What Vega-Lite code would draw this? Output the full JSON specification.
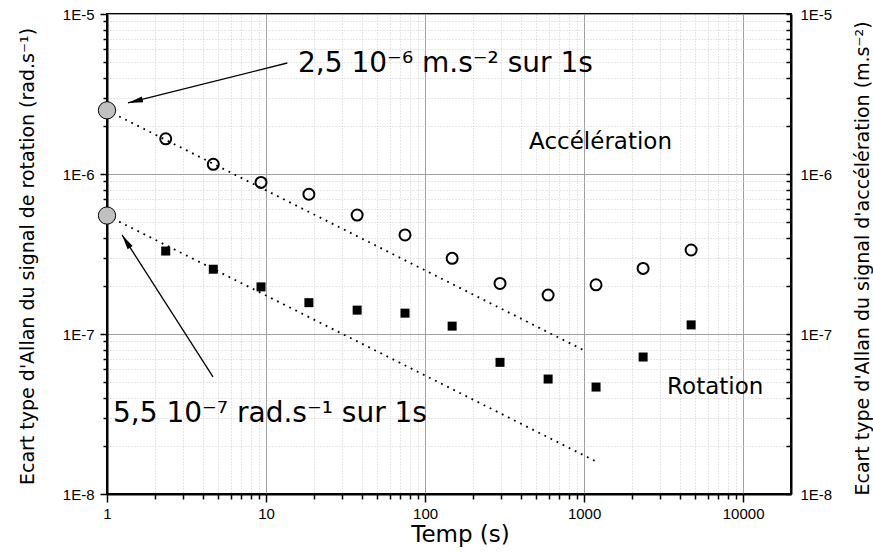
{
  "$schema": "https://vega.github.io/schema/vega-lite/v6.json",
  "width": 684,
  "height": 480,
  "autosize": {"type": "none"},
  "padding": {"left": 107, "top": 14, "right": 82, "bottom": 58},
  "background": "white",
  "config": {"view": {"stroke": "black", "strokeWidth": 2}, "font": "Liberation Sans"},
  "datasets": {
    "accel": [
      {"t": 2.34, "v": 1.66e-6}, {"t": 4.66, "v": 1.15e-6}, {"t": 9.3, "v": 8.86e-7},
      {"t": 18.6, "v": 7.47e-7}, {"t": 37.4, "v": 5.54e-7}, {"t": 74.8, "v": 4.16e-7},
      {"t": 148, "v": 2.97e-7}, {"t": 296, "v": 2.07e-7}, {"t": 594, "v": 1.75e-7},
      {"t": 1189, "v": 2.03e-7}, {"t": 2350, "v": 2.57e-7}, {"t": 4710, "v": 3.35e-7}
    ],
    "rot": [
      {"t": 2.34, "v": 3.3e-7}, {"t": 4.66, "v": 2.54e-7}, {"t": 9.3, "v": 1.97e-7},
      {"t": 18.6, "v": 1.57e-7}, {"t": 37.4, "v": 1.41e-7}, {"t": 74.8, "v": 1.35e-7},
      {"t": 148, "v": 1.12e-7}, {"t": 296, "v": 6.65e-8}, {"t": 594, "v": 5.23e-8},
      {"t": 1189, "v": 4.66e-8}, {"t": 2350, "v": 7.18e-8}, {"t": 4710, "v": 1.14e-7}
    ],
    "fit": [
      {"series": "acc", "t": 1, "v": 2.5e-6}, {"series": "acc", "t": 1000, "v": 7.9e-8},
      {"series": "rot", "t": 1, "v": 5.5e-7}, {"series": "rot", "t": 1200, "v": 1.59e-8}
    ],
    "origin": [{"t": 1, "v": 2.5e-6}, {"t": 1, "v": 5.5e-7}],
    "arrows": [
      {"id": "a1", "t": 13.6, "v": 4.94e-6}, {"id": "a1", "t": 1.355, "v": 2.78e-6},
      {"id": "a2", "t": 4.64, "v": 5.39e-8}, {"id": "a2", "t": 1.243, "v": 4.16e-7}
    ],
    "heads": [{"id": "a1", "t": 1.355, "v": 2.78e-6}, {"id": "a2", "t": 1.243, "v": 4.16e-7}],
    "annBig": [
      {"label": "2,5 10⁻⁶ m.s⁻² sur 1s", "t": 15.9, "v": 4.36e-6},
      {"label": "5,5 10⁻⁷ rad.s⁻¹ sur 1s", "t": 1.091, "v": 2.83e-8}
    ],
    "annSmall": [
      {"label": "Accélération", "t": 451, "v": 1.427e-6},
      {"label": "Rotation", "t": 3327, "v": 4.2e-8}
    ]
  },
  "layer": [
    {
      "data": {"name": "fit"},
      "mark": {"type": "line", "color": "black", "strokeWidth": 1.8, "strokeDash": [1.8, 5]},
      "encoding": {
        "x": {
          "field": "t", "type": "quantitative",
          "scale": {"type": "log", "domain": [1, 20000], "nice": false},
          "axis": {
            "orient": "bottom",
            "values": [1, 2, 3, 4, 5, 6, 7, 8, 9, 10, 20, 30, 40, 50, 60, 70, 80, 90, 100, 200, 300, 400, 500, 600, 700, 800, 900, 1000, 2000, 3000, 4000, 5000, 6000, 7000, 8000, 9000, 10000],
            "title": null, "labels": false, "ticks": false, "domain": false,
            "grid": true, "gridWidth": 1,
            "gridColor": {"condition": {"test": "abs(log(datum.value)/LN10 - round(log(datum.value)/LN10)) < 0.001", "value": "#a0a0a0"}, "value": "#cfcfcf"},
            "gridDash": {"condition": {"test": "abs(log(datum.value)/LN10 - round(log(datum.value)/LN10)) < 0.001", "value": []}, "value": [1, 2]}
          }
        },
        "y": {
          "field": "v", "type": "quantitative",
          "scale": {"type": "log", "domain": [1e-8, 1e-5], "nice": false},
          "axis": {
            "orient": "left",
            "values": [1e-8, 2e-8, 3e-8, 4e-8, 5e-8, 6e-8, 7e-8, 8e-8, 9e-8, 1e-7, 2e-7, 3e-7, 4e-7, 5e-7, 6e-7, 7e-7, 8e-7, 9e-7, 1e-6, 2e-6, 3e-6, 4e-6, 5e-6, 6e-6, 7e-6, 8e-6, 9e-6, 1e-5],
            "title": null, "labels": false, "ticks": false, "domain": false,
            "grid": true, "gridWidth": 1,
            "gridColor": {"condition": {"test": "abs(log(datum.value)/LN10 - round(log(datum.value)/LN10)) < 0.001", "value": "#a0a0a0"}, "value": "#cfcfcf"},
            "gridDash": {"condition": {"test": "abs(log(datum.value)/LN10 - round(log(datum.value)/LN10)) < 0.001", "value": []}, "value": [1, 2]}
          }
        },
        "detail": {"field": "series"}
      }
    },
    {
      "data": {"name": "origin"},
      "mark": {"type": "point", "shape": "circle", "filled": true, "fill": "#c0c0c0", "stroke": "black", "strokeWidth": 1, "size": 300, "opacity": 1},
      "encoding": {
        "x": {
          "field": "t", "type": "quantitative",
          "scale": {"type": "log", "domain": [1, 20000], "nice": false},
          "axis": {
            "orient": "bottom",
            "values": [2, 3, 4, 5, 6, 7, 8, 9, 20, 30, 40, 50, 60, 70, 80, 90, 200, 300, 400, 500, 600, 700, 800, 900, 2000, 3000, 4000, 5000, 6000, 7000, 8000, 9000],
            "title": null, "labels": false, "domain": false, "grid": false,
            "ticks": true, "tickSize": 5, "tickColor": "black", "tickWidth": 1.5, "tickOpacity": 1
          }
        },
        "y": {
          "field": "v", "type": "quantitative",
          "scale": {"type": "log", "domain": [1e-8, 1e-5], "nice": false},
          "axis": {
            "orient": "left",
            "values": [2e-8, 3e-8, 4e-8, 5e-8, 6e-8, 7e-8, 8e-8, 9e-8, 2e-7, 3e-7, 4e-7, 5e-7, 6e-7, 7e-7, 8e-7, 9e-7, 2e-6, 3e-6, 4e-6, 5e-6, 6e-6, 7e-6, 8e-6, 9e-6],
            "title": null, "labels": false, "domain": false, "grid": false,
            "ticks": true, "tickSize": 4, "tickColor": "black", "tickWidth": 1.5, "tickOpacity": 1
          }
        }
      }
    },
    {
      "data": {"name": "rot"},
      "mark": {"type": "point", "shape": "square", "filled": true, "color": "black", "size": 81, "opacity": 1},
      "encoding": {
        "x": {
          "field": "t", "type": "quantitative",
          "scale": {"type": "log", "domain": [1, 20000], "nice": false},
          "axis": {
            "orient": "bottom",
            "values": [1, 10, 100, 1000, 10000],
            "format": "d",
            "title": "Temp (s)",
            "titleFont": "DejaVu Sans",
            "titleFontSize": 23,
            "titleFontWeight": "normal",
            "titleColor": "black",
            "titleBaseline": "alphabetic",
            "titleX": 353,
            "titleY": 47,
            "labelFontSize": 15,
            "labelColor": "black",
            "labelPadding": 4,
            "labelFlush": false,
            "labelOverlap": false,
            "ticks": true,
            "tickSize": 8,
            "tickColor": "black",
            "tickOpacity": 1,
            "tickWidth": 1.5,
            "domainColor": "black",
            "domainWidth": 2,
            "grid": false
          }
        },
        "y": {
          "field": "v",
          "type": "quantitative",
          "scale": {"type": "log", "domain": [1e-8, 1e-5], "nice": false},
          "axis": {
            "orient": "left",
            "values": [1e-8, 1e-7, 1e-6, 1e-5],
            "title": "Ecart type d'Allan du signal de rotation (rad.s⁻¹)",
            "titleFont": "DejaVu Sans",
            "titleFontSize": 19,
            "titleFontWeight": "normal",
            "titleColor": "black",
            "titleAngle": 270,
            "titleAlign": "center",
            "titleBaseline": "alphabetic",
            "titleX": -74,
            "titleY": 242,
            "labelExpr": "'1E' + round(log(datum.value)/LN10)",
            "labelFontSize": 15,
            "labelColor": "black",
            "labelPadding": 6,
            "labelFlush": false,
            "labelOverlap": false,
            "ticks": true,
            "tickSize": 7,
            "tickColor": "black",
            "tickOpacity": 1,
            "tickWidth": 1.5,
            "domainColor": "black",
            "domainWidth": 2,
            "grid": false
          }
        }
      }
    },
    {
      "data": {"name": "accel"},
      "mark": {"type": "point", "shape": "circle", "filled": false, "color": "black", "strokeWidth": 2, "size": 121, "opacity": 1},
      "encoding": {
        "x": {"field": "t", "type": "quantitative", "scale": {"type": "log", "domain": [1, 20000], "nice": false}, "axis": null},
        "y": {
          "field": "v",
          "type": "quantitative",
          "scale": {"type": "log", "domain": [1e-8, 1e-5], "nice": false},
          "axis": {
            "orient": "right",
            "values": [1e-8, 2e-8, 3e-8, 4e-8, 5e-8, 6e-8, 7e-8, 8e-8, 9e-8, 1e-7, 2e-7, 3e-7, 4e-7, 5e-7, 6e-7, 7e-7, 8e-7, 9e-7, 1e-6, 2e-6, 3e-6, 4e-6, 5e-6, 6e-6, 7e-6, 8e-6, 9e-6, 1e-5],
            "title": "Ecart type d'Allan du signal d'accélération (m.s⁻²)",
            "titleFont": "DejaVu Sans",
            "titleFontSize": 19,
            "titleFontWeight": "normal",
            "titleColor": "black",
            "titleAngle": 270,
            "titleAlign": "center",
            "titleBaseline": "alphabetic",
            "titleX": 77,
            "titleY": 244,
            "labelExpr": "abs(log(datum.value)/LN10 - round(log(datum.value)/LN10)) < 0.001 ? '1E' + round(log(datum.value)/LN10) : ''",
            "labelFontSize": 15,
            "labelColor": "black",
            "labelAlign": "left",
            "labelPadding": 14,
            "labelFlush": false,
            "labelOverlap": false,
            "tickSize": -5,
            "tickColor": "black",
            "tickWidth": 1.5,
            "domainColor": "black",
            "domainWidth": 2,
            "grid": false
          }
        }
      }
    },
    {
      "data": {"name": "arrows"},
      "mark": {"type": "line", "color": "black", "strokeWidth": 1.3},
      "encoding": {
        "x": {"field": "t", "type": "quantitative", "scale": {"type": "log", "domain": [1, 20000], "nice": false}, "axis": null},
        "y": {"field": "v", "type": "quantitative", "scale": {"type": "log", "domain": [1e-8, 1e-5], "nice": false}, "axis": null},
        "detail": {"field": "id"}
      }
    },
    {
      "data": {"name": "heads"},
      "transform": [{"filter": "datum.id == 'a1'"}],
      "mark": {"type": "point", "shape": "M0,0L0.4,2L-0.4,2Z", "filled": true, "color": "black", "size": 225, "angle": 255.9, "opacity": 1},
      "encoding": {
        "x": {"field": "t", "type": "quantitative", "scale": {"type": "log", "domain": [1, 20000], "nice": false}, "axis": null},
        "y": {"field": "v", "type": "quantitative", "scale": {"type": "log", "domain": [1e-8, 1e-5], "nice": false}, "axis": null}
      }
    },
    {
      "data": {"name": "heads"},
      "transform": [{"filter": "datum.id == 'a2'"}],
      "mark": {"type": "point", "shape": "M0,0L0.4,2L-0.4,2Z", "filled": true, "color": "black", "size": 225, "angle": 327.3, "opacity": 1},
      "encoding": {
        "x": {"field": "t", "type": "quantitative", "scale": {"type": "log", "domain": [1, 20000], "nice": false}, "axis": null},
        "y": {"field": "v", "type": "quantitative", "scale": {"type": "log", "domain": [1e-8, 1e-5], "nice": false}, "axis": null}
      }
    },
    {
      "data": {"name": "annBig"},
      "mark": {"type": "text", "font": "DejaVu Sans", "fontSize": 28, "align": "left", "baseline": "alphabetic", "color": "black"},
      "encoding": {
        "x": {"field": "t", "type": "quantitative", "scale": {"type": "log", "domain": [1, 20000], "nice": false}, "axis": null},
        "y": {"field": "v", "type": "quantitative", "scale": {"type": "log", "domain": [1e-8, 1e-5], "nice": false}, "axis": null},
        "text": {"field": "label"}
      }
    },
    {
      "data": {"name": "annSmall"},
      "mark": {"type": "text", "font": "DejaVu Sans", "fontSize": 23, "align": "left", "baseline": "alphabetic", "color": "black"},
      "encoding": {
        "x": {"field": "t", "type": "quantitative", "scale": {"type": "log", "domain": [1, 20000], "nice": false}, "axis": null},
        "y": {"field": "v", "type": "quantitative", "scale": {"type": "log", "domain": [1e-8, 1e-5], "nice": false}, "axis": null},
        "text": {"field": "label"}
      }
    }
  ],
  "resolve": {"axis": {"x": "independent", "y": "independent"}}
}
